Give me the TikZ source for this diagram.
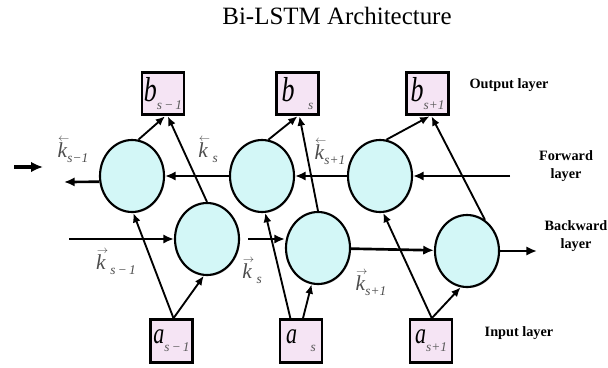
\documentclass[tikz,border=0pt]{standalone}
\usepackage{graphicx}
\usepackage{fontspec}
\setmainfont{Liberation Serif}
\usepackage{tikz}
\usetikzlibrary{arrows.meta,shapes.geometric,shadows}
\definecolor{cell-fill}{HTML}{D3F7F7}
\definecolor{box-fill}{HTML}{F5E4F4}
\newcommand\unitlbl[3][26]{\scalebox{.75}[1]{\fontsize{#1}{#1}\selectfont\itshape #2}\raisebox{-6pt}{\fontsize{10}{10}\selectfont\itshape\color{black!65}#3}}
\newcommand\kstate[2]{\ooalign{\hidewidth\kern2pt\raisebox{12pt}{$\scriptscriptstyle#1$}\hidewidth\cr\textit{k}}\raisebox{-4pt}{\fontsize{10}{10}\selectfont\itshape #2}}
\tikzset{
    unit-box/.style = {draw, line width=2.2pt, fill=box-fill, rectangle, inner sep=0pt, minimum width=31.5pt, minimum height=32pt, drop shadow={shadow xshift=.8pt, shadow yshift=-.8pt, opacity=.35}},
    cell/.style = {draw, line width=1.6pt, fill=cell-fill, ellipse, inner sep=0pt, minimum width=48pt, minimum height=54pt, drop shadow={shadow xshift=.8pt, shadow yshift=-.8pt, opacity=.35}},
    state-label/.style = {text=black!70, font=\fontsize{16}{16}\selectfont},
    layer-label/.style = {font=\fontsize{10.7}{14}\selectfont\bfseries, align=center},
    flow/.style = {line width=1.4pt, -{Latex[length=7pt,width=6pt]}},
    pass/.style = {line width=2pt, -{Latex[length=8pt,width=7pt]}},
}

\begin{document}
\begin{tikzpicture}[x=0.75pt,y=-0.75pt]
\useasboundingbox (0,0) rectangle (608,368);
\node[font=\fontsize{18.7}{20}\selectfont] (title) at (337,16) {Bi-LSTM Architecture};

\node[unit-box] (bA) at (163,93.5) {\unitlbl{b}{s\,−\,1}};
\node[unit-box] (bB) at (297.5,93.5) {\unitlbl{b}{\quad s}};
\node[unit-box] (bC) at (427.5,93.5) {\unitlbl{b}{s+1}};
\node[unit-box] (aA) at (171.5,341) {\unitlbl[22]{a}{s\,−\,1}};
\node[unit-box] (aB) at (301,341) {\unitlbl[22]{a}{\quad s}};
\node[unit-box] (aC) at (431,341) {\unitlbl[22]{a}{s+1}};

\node[cell] (fA) at (132,176) {};
\node[cell] (fB) at (262,176) {};
\node[cell] (fC) at (380,176) {};
\node[cell] (bkA) at (207,239) {};
\node[cell] (bkB) at (318,248) {};
\node[cell] (bkC) at (467,251) {};

\coordinate (fwdIn) at (510,176);
\coordinate (fwdOut) at (64,182);
\coordinate (bwdIn) at (69,239);
\coordinate (bwdOut) at (537,251);
\coordinate (strayA) at (14,167);
\coordinate (strayB) at (43,167);

\draw[pass] (fwdIn) -- (fC);
\draw[pass] (fC) -- (fB);
\draw[pass] (fB) -- (fA);
\draw[pass] (fA.190) -- (fwdOut);
\draw[pass] (bwdIn) -- (bkA);
\draw[pass, shorten <=6pt] (bkA.east) -- (bkA.east -| bkB.west);
\draw[pass] (bkB) -- (bkC);
\draw[pass] (bkC) -- (bwdOut);
\draw[line width=3pt, -{Latex[length=9pt,width=8pt]}] (strayA) -- (strayB);

\draw[flow] (fA.80) -- (bA.-85);
\draw[flow] (bkA.north) -- (bA.-78);
\draw[flow] (fB.80) -- (bB.-90);
\draw[flow] (bkB.north) -- (bB.-85);
\draw[flow] (fC.80) -- (bC.-85);
\draw[flow] (bkC.60) -- (bC.-80);
\draw[flow] (aA.85) -- (fA.-88);
\draw[flow] (aA.85) -- (bkA.-95);
\draw[flow] (aB.115) -- (fB.-85);
\draw[flow] (aB.85) -- (bkB.-100);
\draw[flow] (aC.88) -- (fC.-85);
\draw[flow] (aC.88) -- (bkC.-100);

\node[state-label] (kfA) at (73,150) {\kstate{\leftarrow}{s−1}};
\node[state-label] (kfB) at (208,150) {\kstate{\leftarrow}{\,\,s}};
\node[state-label] (kfC) at (330,152) {\kstate{\leftarrow}{s+1}};
\node[state-label] (kbA) at (116,262) {\kstate{\rightarrow}{\,\,s\,−\,1}};
\node[state-label] (kbB) at (252,271) {\kstate{\rightarrow}{\,\,s}};
\node[state-label] (kbC) at (371,283) {\kstate{\rightarrow}{s+1}};

\node[layer-label] (outLbl) at (509,85) {Output layer};
\node[layer-label] (fwdLbl) at (566,166) {Forward\\layer};
\node[layer-label] (bwdLbl) at (576,236) {Backward\\layer};
\node[layer-label] (inLbl) at (519,333) {Input layer};
\end{tikzpicture}
\end{document}
